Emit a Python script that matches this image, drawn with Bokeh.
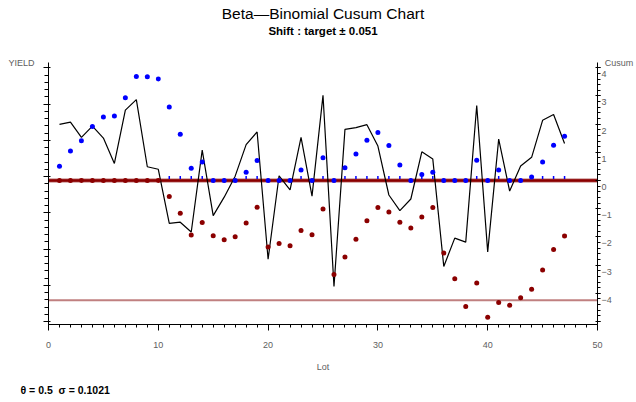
import numpy as np
from bokeh.plotting import figure
from bokeh.models import Range1d, LinearAxis, FixedTicker, Span, Title, ColumnDataSource
from bokeh.embed import file_html
from bokeh.resources import INLINE

# ---------------- data ----------------
lots = list(range(1, 48))

yield_vals = [5.44, 5.50, 5.08, 5.39, 5.06, 4.36, 5.83, 6.12, 4.27, 4.20,
              2.71, 2.74, 2.47, 4.73, 2.92, 3.43, 4.01, 4.88, 5.23, 1.72,
              4.02, 3.63, 5.08, 3.46, 6.24, 0.97, 5.30, 5.35, 5.43, 4.84,
              3.49, 3.06, 3.38, 4.68, 4.48, 1.52, 2.30, 2.19, 5.96, 1.92,
              5.03, 3.60, 4.29, 4.53, 5.55, 5.71, 4.91]

cusum_upper = [0.51, 1.05, 1.41, 1.92, 2.25, 2.29, 2.94, 3.69, 3.68, 3.60,
               2.61, 1.64, 0.44, 0.66, 0.00, 0.00, 0.00, 0.29, 0.71, 0.00,
               0.00, 0.00, 0.37, 0.00, 0.81, 0.00, 0.45, 0.94, 1.43, 1.70,
               1.24, 0.55, 0.00, 0.21, 0.29, 0.00, 0.00, 0.00, 0.72, 0.00,
               0.37, 0.00, 0.00, 0.13, 0.66, 1.25, 1.57]

cusum_lower = [0.00, 0.00, 0.00, 0.00, 0.00, 0.00, 0.00, 0.00, 0.00, 0.00,
               -0.57, -1.16, -1.93, -1.49, -1.96, -2.10, -1.99, -1.51, -0.95, -2.36,
               -2.23, -2.31, -1.77, -1.92, -1.01, -3.33, -2.71, -2.08, -1.43, -0.96,
               -1.12, -1.48, -1.68, -1.29, -0.96, -2.57, -3.48, -4.47, -3.63, -4.85,
               -4.33, -4.42, -4.16, -3.86, -3.17, -2.45, -1.97]

target = 0.0
lower_limit = -4.25

x_ticks = [0, 10, 20, 30, 40, 50]
cusum_ticks = [4, 3, 2, 1, 0, -1, -2, -3, -4, -5]
yield_ticks = [0, 1, 2, 3, 4, 5, 6, 7]

title_text = "Beta\u2014Binomial Cusum Chart"
subtitle_text = "Shift : target \u00b1 0.051"
footnote_text = "\u03b8 = 0.5\u00a0\u00a0\u03c3 = 0.1021"

# ---------------- styling ----------------
DARK_RED = "#8b0000"
PINK = "#c08080"
BLUE = "#0000ff"
GRAY = "#606060"
FONT = "Liberation Sans"

Y0, Y1 = -5.106, 4.187
LABEL_SHIFT = 0.23  # right-axis labels sit a little below their ticks

p = figure(width=636, height=402,
           x_range=Range1d(0, 50), y_range=Range1d(Y0, Y1),
           output_backend="svg", toolbar_location=None,
           x_axis_location=None, y_axis_location=None,
           min_border_left=48, min_border_right=35,
           min_border_top=62, min_border_bottom=77,
           outline_line_color=None, background_fill_color="white")
p.grid.visible = False
p.extra_y_ranges = {"yield": Range1d(-0.0824, 7.1454),
                    "cusum_lbl": Range1d(Y0 + LABEL_SHIFT, Y1 + LABEL_SHIFT)}

def style(ax):
    ax.axis_line_color = "black"
    ax.major_tick_line_color = "black"
    ax.minor_tick_line_color = "black"
    ax.major_label_text_color = GRAY
    ax.major_label_text_font = FONT
    ax.major_label_text_font_size = "9px"
    ax.axis_label_text_color = GRAY
    ax.axis_label_text_font = FONT
    ax.axis_label_text_font_size = "9px"
    ax.axis_label_text_font_style = "normal"

# bottom axis
xaxis = LinearAxis(ticker=FixedTicker(ticks=x_ticks, minor_ticks=list(np.arange(0, 51, 1))),
                   axis_label="Lot")
style(xaxis)
xaxis.major_tick_out = 6
xaxis.major_tick_in = 0
xaxis.minor_tick_out = 3
xaxis.minor_tick_in = 0
xaxis.major_label_standoff = 11
xaxis.axis_label_standoff = 11

# left axis (YIELD): ticks only
yleft = LinearAxis(y_range_name="yield",
                   ticker=FixedTicker(ticks=yield_ticks,
                                      minor_ticks=list(np.round(np.arange(0, 7.01, 0.2), 3))),
                   axis_label="YIELD")
style(yleft)
yleft.major_tick_out = 5
yleft.major_tick_in = 2
yleft.minor_tick_out = 4
yleft.minor_tick_in = 0
yleft.major_label_text_font_size = "1px"
yleft.major_label_text_color = None
yleft.major_label_standoff = 0
yleft.axis_label_standoff = 9
yleft.axis_label_orientation = "horizontal"
yleft.axis_label_align = "end"

# right axis (Cusum): ticks
yright = LinearAxis(ticker=FixedTicker(ticks=cusum_ticks,
                                       minor_ticks=list(np.round(np.arange(-5, 4.01, 0.2), 3))))
style(yright)
yright.major_tick_out = 3
yright.major_tick_in = 2
yright.minor_tick_out = 3
yright.minor_tick_in = 0
yright.major_label_text_font_size = "1px"
yright.major_label_text_color = None
yright.major_label_standoff = 0

# right axis labels (slightly below the ticks, as in the original)
yright_lbl = LinearAxis(y_range_name="cusum_lbl", ticker=FixedTicker(ticks=cusum_ticks, minor_ticks=[]),
                        axis_label="Cusum")
style(yright_lbl)
yright_lbl.axis_line_color = None
yright_lbl.major_tick_out = 0
yright_lbl.major_tick_in = 0
yright_lbl.minor_tick_out = 0
yright_lbl.minor_tick_in = 0
yright_lbl.major_label_standoff = 1
yright_lbl.axis_label_standoff = -10
yright_lbl.axis_label_orientation = "horizontal"
yright_lbl.axis_label_align = "end"

p.add_layout(xaxis, "below")
p.add_layout(yleft, "left")
p.add_layout(yright, "right")
p.add_layout(yright_lbl, "right")

# titles (stacked from the frame upward: spacer, subtitle, title)
p.add_layout(Title(text=" ", text_font=FONT, text_font_size="10px", standoff=13), "above")
p.add_layout(Title(text=subtitle_text, align="center", text_font=FONT, text_font_size="11.5px",
                   text_font_style="bold", text_color="black", standoff=0), "above")
p.add_layout(Title(text=title_text, align="center", text_font=FONT, text_font_size="15.5px",
                   text_font_style="normal", text_color="black", standoff=1), "above")
p.add_layout(Title(text=footnote_text, align="left", offset=-28, text_font=FONT, text_font_size="10.5px",
                   text_font_style="bold", text_color="black", standoff=14), "below")

# reference lines
p.add_layout(Span(location=target, dimension="width", line_color="#b86a6a", line_width=4, level="underlay"))
p.add_layout(Span(location=target, dimension="width", line_color=DARK_RED, line_width=2.5, level="underlay"))
p.add_layout(Span(location=lower_limit, dimension="width", line_color=PINK, line_width=2, level="underlay"))

src = ColumnDataSource(dict(lot=lots, yld=yield_vals, up=cusum_upper, lo=cusum_lower))

# small blue marks where both cusums are active
mark_lots = [l for l, u, d in zip(lots, cusum_upper, cusum_lower) if u > 0 and d < 0]
p.scatter(x=mark_lots, y=[target + 0.11] * len(mark_lots), marker="dash", angle=np.pi / 2,
          size=3, line_color=BLUE, line_width=1.5)

p.line("lot", "yld", source=src, y_range_name="yield", line_color="black", line_width=1.2)
p.scatter("lot", "lo", source=src, marker="circle", size=5, fill_color=DARK_RED, line_color=None)
p.scatter("lot", "up", source=src, marker="circle", size=5, fill_color=BLUE, line_color=None)

open("out.html", "w").write(file_html(p, INLINE))
